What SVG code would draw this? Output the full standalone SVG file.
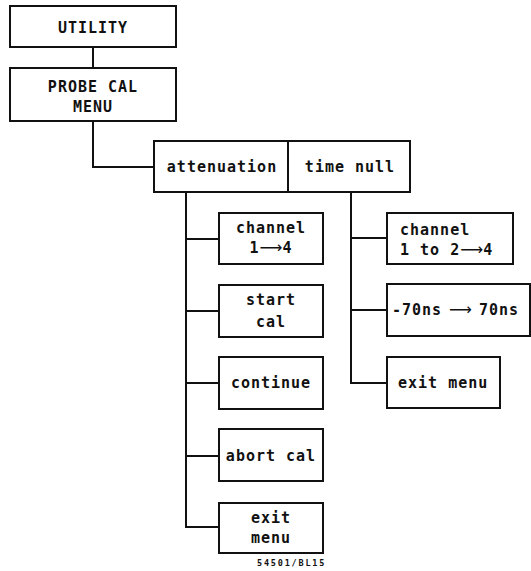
<svg xmlns="http://www.w3.org/2000/svg" width="531" height="571" viewBox="0 0 531 571">
<style>
.box{fill:#fff;stroke:#111;stroke-width:2}
.ln{fill:none;stroke:#111;stroke-width:2}
text{font-family:"DejaVu Sans Mono","Liberation Mono",monospace;font-size:15px;font-weight:bold;fill:#111;letter-spacing:1px}
.c{text-anchor:middle}
.ar{font-family:"DejaVu Sans",sans-serif;font-weight:normal;font-size:16px;letter-spacing:0}
.cap{font-size:8.5px;letter-spacing:1.8px}
</style>
<rect width="531" height="571" fill="#fff"/>
<g id="connectors">
<path class="ln" d="M93,47V68"/>
<path class="ln" d="M93,121V167H154"/>
<path class="ln" d="M186,192V527H219M186,239H219M186,311H219M186,383H219M186,456H219"/>
<path class="ln" d="M351,192V383H387M351,238H387M351,310H387"/>
</g>
<g id="utility"><rect class="box" x="10" y="6" width="166" height="41"/><text class="c" x="93" y="33">UTILITY</text></g>
<g id="probecal"><rect class="box" x="10" y="68" width="166" height="53"/><text class="c" x="93" y="92">PROBE CAL</text><text class="c" x="93" y="112">MENU</text></g>
<g id="attenuation"><rect class="box" x="154" y="141" width="134" height="51"/><text class="c" x="222" y="172">attenuation</text></g>
<g id="timenull"><rect class="box" x="288" y="141" width="122" height="51"/><text class="c" x="350" y="172">time null</text></g>
<g id="att-channel"><rect class="box" x="219" y="213" width="104" height="51"/><text class="c" x="271" y="233">channel</text><text class="c" x="271" y="253">1<tspan class="ar">⟶</tspan>4</text></g>
<g id="att-start"><rect class="box" x="219" y="285" width="104" height="52"/><text class="c" x="271" y="305">start</text><text class="c" x="271" y="327">cal</text></g>
<g id="att-continue"><rect class="box" x="219" y="357" width="104" height="52"/><text class="c" x="271" y="388">continue</text></g>
<g id="att-abort"><rect class="box" x="219" y="429" width="104" height="52"/><text class="c" x="271" y="461">abort cal</text></g>
<g id="att-exit"><rect class="box" x="219" y="503" width="104" height="50"/><text class="c" x="271" y="523">exit</text><text class="c" x="271" y="543">menu</text></g>
<g id="tn-channel"><rect class="box" x="387" y="213" width="126" height="51"/><text x="400" y="235">channel</text><text x="400" y="255">1 to 2<tspan class="ar">⟶</tspan>4</text></g>
<g id="tn-range"><rect class="box" x="387" y="284" width="143" height="52"/><text y="315"><tspan x="392">-70ns</tspan><tspan class="ar" x="449">⟶</tspan><tspan x="479">70ns</tspan></text></g>
<g id="tn-exit"><rect class="box" x="387" y="357" width="113" height="51"/><text x="398" y="388">exit menu</text></g>
<text class="cap" x="257" y="566">54501/BL15</text>
</svg>
